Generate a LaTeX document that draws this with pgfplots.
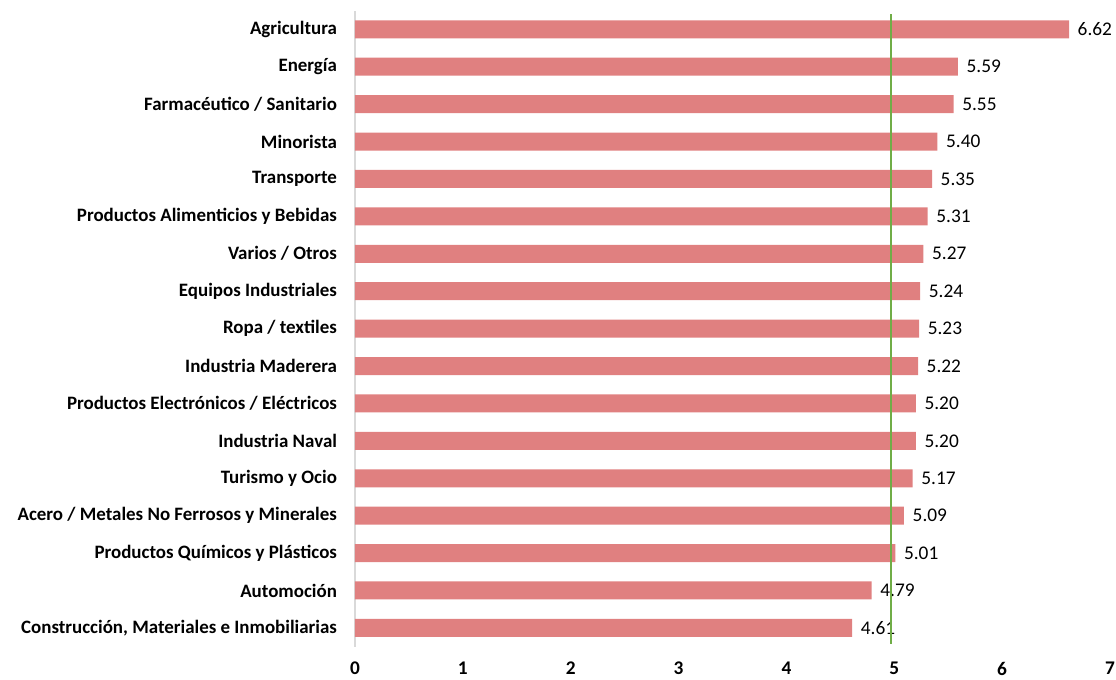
\documentclass[border=0pt]{standalone}
\usepackage{pgfplots}
\pgfplotsset{compat=1.18}
\usepackage{fontspec}
\setmainfont{Carlito}
\definecolor{barc}{RGB}{224,128,128}
\definecolor{greenl}{RGB}{112,173,71}
\definecolor{axg}{RGB}{217,217,217}
\begin{document}
\begin{tikzpicture}[x=1pt,y=1pt]
\useasboundingbox (-266.25pt,-24.3pt) rectangle (570.75pt,484.95pt);
\begin{axis}[
  at={(0,0)}, anchor=south west,
  scale only axis,
  width=566.25pt, height=477pt,
  xmin=0, xmax=7, ymin=-0.5, ymax=16.5,
  xbar, bar width=13.5pt,
  /pgf/number format/assume math mode=true,
  axis x line=none,
  axis y line*=left,
  y axis line style={draw=axg, line width=0.8pt, -},
  ytick={0,...,16},
  major tick length=0pt,
  font=\fontsize{14.2pt}{16pt}\selectfont,
  yticklabels={{Construcción, Materiales e Inmobiliarias},Automoción,Productos Químicos y Plásticos,Acero / Metales No Ferrosos y Minerales,Turismo y Ocio,Industria Naval,Productos Electrónicos / Eléctricos,Industria Maderera,Ropa / textiles,Equipos Industriales,Varios / Otros,Productos Alimenticios y Bebidas,Transporte,Minorista,Farmacéutico / Sanitario,Energía,Agricultura},
  yticklabel style={font=\fontsize{14.2pt}{16pt}\selectfont\bfseries, xshift=-10pt},
  nodes near coords,
  point meta=x,
  every node near coord/.append style={font=\fontsize{14.5pt}{16pt}\selectfont, anchor=west, xshift=3pt,
    /pgf/number format/.cd, fixed, fixed zerofill, precision=2, assume math mode=true},
  clip=false,
]
\addplot[fill=barc, draw=none] coordinates {
(4.61,0) (4.79,1) (5.01,2) (5.09,3) (5.17,4) (5.20,5) (5.20,6) (5.22,7) (5.23,8) (5.24,9) (5.27,10) (5.31,11) (5.35,12) (5.40,13) (5.55,14) (5.59,15) (6.62,16)};
\end{axis}
\begin{axis}[
  at={(0,0)}, anchor=south west,
  scale only axis,
  width=566.25pt, height=477pt,
  xmin=0, xmax=7, ymin=-0.5, ymax=16.5,
  axis y line=none, axis x line*=bottom,
  x axis line style={draw=none},
  xtick={0,1,...,7}, major tick length=0pt,
  /pgf/number format/assume math mode=true,
  xticklabel style={font=\fontsize{14.5pt}{16pt}\selectfont\bfseries, yshift=-8pt},
  clip=false,
]
\addplot[greenl, line width=2.1pt, no marks] coordinates {(4.97,-0.42) (4.97,16.42)};
\end{axis}
\end{tikzpicture}
\end{document}
